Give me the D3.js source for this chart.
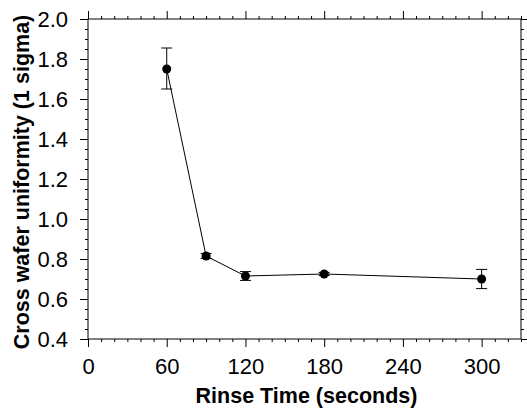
<!DOCTYPE html>
<html>
<head>
<meta charset="utf-8">
<script src="https://cdn.jsdelivr.net/npm/d3@7"></script>
<style>
  body { margin: 0; background: #fff; }
  text { font-family: "Liberation Sans", Arial, sans-serif; }
</style>
</head>
<body>
<div id="chart"></div>
<script>
// Rinse time data
const rinseTime = [60, 90, 120, 180, 300];
const uniformity = [1.75, 0.815, 0.715, 0.725, 0.70];
const errLow = [0.10, 0.012, 0.022, 0.008, 0.048];
const errHigh = [0.105, 0.012, 0.022, 0.008, 0.048];

const xTicks = [0, 60, 120, 180, 240, 300];
const yTicks = [0.4, 0.6, 0.8, 1.0, 1.2, 1.4, 1.6, 1.8, 2.0];

let width = 527;
let height = 413;
const margin = {top: 19, right: 6, bottom: 74, left: 88};

const svg = d3.select("#chart")
  .append("svg")
  .attr("width", width)
  .attr("height", height);

const x = d3.scaleLinear().domain([0, 330]).range([margin.left, width - margin.right]);
const y = d3.scaleLinear().domain([0.4, 2.0]).range([height - margin.bottom, margin.top]);

const x0 = x.range()[0], x1 = x.range()[1];
const y0 = y.range()[0], y1 = y.range()[1];

// minor ticks
const xMinor = d3.range(0, 331, 10).filter(v => v % 60 !== 0);
const yMinor = d3.range(0.4, 2.0001, 0.05).filter(v => Math.abs(Math.round(v * 5) - v * 5) > 0.01);

// bottom axis
svg.append("g")
  .attr("transform", "translate(0," + y0 + ")")
  .call(d3.axisBottom(x).tickValues(xTicks).tickSize(8).tickPadding(11).tickFormat(d3.format("d")))
  .call(g => g.select(".domain").remove())
  .call(g => g.selectAll("text").attr("font-size", 22).attr("fill", "#000").attr("font-family", "Liberation Sans, Arial, sans-serif"));
svg.append("g")
  .attr("transform", "translate(0," + y0 + ")")
  .call(d3.axisBottom(x).tickValues(xMinor).tickSize(3).tickFormat(""))
  .call(g => g.select(".domain").remove());

// top axis
svg.append("g")
  .attr("transform", "translate(0," + y1 + ")")
  .call(d3.axisTop(x).tickValues(xTicks).tickSize(8).tickFormat(""))
  .call(g => g.select(".domain").remove());
svg.append("g")
  .attr("transform", "translate(0," + y1 + ")")
  .call(d3.axisTop(x).tickValues(xMinor).tickSize(3).tickFormat(""))
  .call(g => g.select(".domain").remove());

// left axis
svg.append("g")
  .attr("transform", "translate(" + x0 + ",0)")
  .call(d3.axisLeft(y).tickValues(yTicks).tickSize(8).tickPadding(12).tickFormat(d3.format(".1f")))
  .call(g => g.select(".domain").remove())
  .call(g => g.selectAll("text").attr("font-size", 22).attr("fill", "#000").attr("font-family", "Liberation Sans, Arial, sans-serif"));
svg.append("g")
  .attr("transform", "translate(" + x0 + ",0)")
  .call(d3.axisLeft(y).tickValues(yMinor).tickSize(3).tickFormat(""))
  .call(g => g.select(".domain").remove());

// right axis
svg.append("g")
  .attr("transform", "translate(" + x1 + ",0)")
  .call(d3.axisRight(y).tickValues(yTicks).tickSize(8).tickFormat(""))
  .call(g => g.select(".domain").remove());
svg.append("g")
  .attr("transform", "translate(" + x1 + ",0)")
  .call(d3.axisRight(y).tickValues(yMinor).tickSize(3).tickFormat(""))
  .call(g => g.select(".domain").remove());

// frame
svg.append("rect")
  .attr("x", x0).attr("y", y1)
  .attr("width", x1 - x0).attr("height", y0 - y1)
  .attr("fill", "none").attr("stroke", "#000").attr("stroke-width", 1);

svg.selectAll(".tick line").attr("stroke", "#000");

const data = rinseTime.map((t, i) => ({t: t, v: uniformity[i], lo: uniformity[i] - errLow[i], hi: uniformity[i] + errHigh[i]}));

// line through points
svg.append("path")
  .datum(data)
  .attr("fill", "none")
  .attr("stroke", "#000")
  .attr("stroke-width", 1)
  .attr("d", d3.line().x(d => x(d.t)).y(d => y(d.v)));

// error bars
const eb = svg.selectAll(".err").data(data).enter().append("g").attr("class", "err")
  .attr("stroke", "#000").attr("stroke-width", 1);
eb.append("line").attr("x1", d => x(d.t)).attr("x2", d => x(d.t)).attr("y1", d => y(d.lo)).attr("y2", d => y(d.hi));
eb.append("line").attr("x1", d => x(d.t) - 5.5).attr("x2", d => x(d.t) + 5.5).attr("y1", d => y(d.lo)).attr("y2", d => y(d.lo));
eb.append("line").attr("x1", d => x(d.t) - 5.5).attr("x2", d => x(d.t) + 5.5).attr("y1", d => y(d.hi)).attr("y2", d => y(d.hi));

// markers
svg.selectAll(".pt").data(data).enter().append("circle")
  .attr("cx", d => x(d.t)).attr("cy", d => y(d.v)).attr("r", 4.5).attr("fill", "#000");

// axis titles
svg.append("text")
  .attr("x", (x0 + x1) / 2 + 2).attr("y", 403)
  .attr("text-anchor", "middle")
  .attr("font-size", 21.5).attr("font-weight", "bold")
  .text("Rinse Time (seconds)");

svg.append("text")
  .attr("transform", "translate(29," + ((y0 + y1) / 2 + 3) + ") rotate(-90)")
  .attr("text-anchor", "middle")
  .attr("font-size", 21.5).attr("font-weight", "bold")
  .text("Cross wafer uniformity (1 sigma)");
</script>
</body>
</html>
